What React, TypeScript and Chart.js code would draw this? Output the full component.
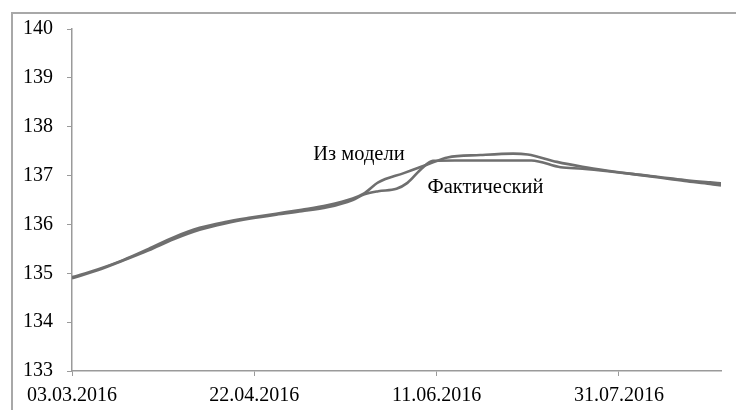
import React, { useEffect, useRef } from "react";
import { Chart, registerables } from "chart.js";

Chart.register(...registerables);

// Days counted from 03.03.2016
const modelDays = [0, 7, 14, 21, 28, 35, 42, 49, 56, 63, 70, 77, 80, 84, 91, 98, 103, 112, 121, 125, 133, 140, 147, 154, 161, 168, 175, 178];
const modelValues = [134.92, 135.08, 135.27, 135.5, 135.74, 135.93, 136.05, 136.14, 136.22, 136.3, 136.39, 136.53, 136.63, 136.86, 137.05, 137.24, 137.37, 137.42, 137.45, 137.43, 137.28, 137.18, 137.1, 137.03, 136.97, 136.91, 136.86, 136.84];

const actualDays = [0, 7, 14, 21, 28, 35, 42, 49, 56, 63, 70, 77, 80, 84, 89, 92, 96, 99, 105, 126, 134, 140, 147, 154, 161, 168, 175, 178];
const actualValues = [134.9, 135.06, 135.26, 135.47, 135.7, 135.89, 136.02, 136.12, 136.2, 136.27, 136.35, 136.5, 136.61, 136.68, 136.73, 136.85, 137.15, 137.3, 137.31, 137.31, 137.17, 137.14, 137.09, 137.03, 136.96, 136.89, 136.83, 136.8];

const xTickDays = [0, 50, 100, 150];
const xTickLabels = ["03.03.2016", "22.04.2016", "11.06.2016", "31.07.2016"];
const yTicks = [133, 134, 135, 136, 137, 138, 139, 140];

const seriesNames = ["Из модели", "Фактический"];
// label anchors: [day, value]
const labelAnchors = [
  [78.7, 137.31],
  [113.4, 136.65],
];

const FONT = "'Liberation Serif', 'Times New Roman', serif";
const TICK_FONT_SIZE = 20;
const LABEL_FONT_SIZE = 20.5;
const LINE_COLOR = "#6f6f6f";
const AXIS_COLOR = "#9a9a9a";

export default function App() {
  const ref = useRef<HTMLCanvasElement | null>(null);

  useEffect(() => {
    if (!ref.current) return;

    const framePlugin = {
      id: "frame",
      beforeDraw(chart: any) {
        const ctx = chart.ctx;
        ctx.save();
        ctx.fillStyle = "#ffffff";
        ctx.fillRect(0, 0, chart.width, chart.height);
        ctx.strokeStyle = "#a8a8a8";
        ctx.lineWidth = 2;
        ctx.beginPath();
        ctx.moveTo(12, chart.height);
        ctx.lineTo(12, 13);
        ctx.lineTo(chart.width, 13);
        ctx.stroke();
        ctx.restore();
      },
    };

    const labelPlugin = {
      id: "seriesLabels",
      afterDatasetsDraw(chart: any) {
        const ctx = chart.ctx;
        const xs = chart.scales.x;
        const ys = chart.scales.y;
        ctx.save();
        ctx.font = `${LABEL_FONT_SIZE}px ${FONT}`;
        ctx.fillStyle = "#000000";
        ctx.textAlign = "center";
        ctx.textBaseline = "alphabetic";
        seriesNames.forEach((name, i) => {
          const [d, v] = labelAnchors[i];
          ctx.fillText(name, xs.getPixelForValue(d), ys.getPixelForValue(v));
        });
        ctx.restore();
      },
    };

    const chart = new Chart(ref.current, {
      type: "line",
      data: {
        datasets: [
          {
            label: seriesNames[0],
            data: modelDays.map((d, i) => ({ x: d, y: modelValues[i] })),
            borderColor: LINE_COLOR,
            borderWidth: 2.6,
            pointRadius: 0,
            cubicInterpolationMode: "monotone",
            fill: false,
          },
          {
            label: seriesNames[1],
            data: actualDays.map((d, i) => ({ x: d, y: actualValues[i] })),
            borderColor: LINE_COLOR,
            borderWidth: 2.6,
            pointRadius: 0,
            cubicInterpolationMode: "monotone",
            fill: false,
          },
        ],
      },
      options: {
        responsive: false,
        animation: false,
        layout: { padding: { left: 0, top: 29, right: 15, bottom: 0 } },
        plugins: {
          legend: { display: false },
          tooltip: { enabled: false },
        },
        scales: {
          x: {
            type: "linear",
            min: 0,
            max: 178,
            afterBuildTicks(scale: any) {
              scale.ticks = xTickDays.map((v) => ({ value: v }));
            },
            afterFit(scale: any) {
              scale.height = 39;
            },
            ticks: {
              autoSkip: false,
              maxRotation: 0,
              padding: 8,
              color: "#000000",
              font: { family: FONT, size: TICK_FONT_SIZE },
              callback: (v: any) => {
                const i = xTickDays.indexOf(Number(v));
                return i >= 0 ? xTickLabels[i] : "";
              },
            },
            grid: {
              drawOnChartArea: false,
              drawTicks: true,
              tickLength: 5,
              color: AXIS_COLOR,
            },
            border: { display: true, color: AXIS_COLOR, width: 1.5 },
          },
          y: {
            type: "linear",
            min: 133,
            max: 140,
            afterBuildTicks(scale: any) {
              scale.ticks = yTicks.map((v) => ({ value: v }));
            },
            afterFit(scale: any) {
              scale.width = 72;
            },
            ticks: {
              padding: 14,
              color: "#000000",
              font: { family: FONT, size: TICK_FONT_SIZE },
            },
            grid: {
              drawOnChartArea: false,
              drawTicks: true,
              tickLength: 5,
              color: AXIS_COLOR,
            },
            border: { display: true, color: AXIS_COLOR, width: 1.5 },
          },
        },
      },
      plugins: [framePlugin, labelPlugin],
    } as any);

    return () => chart.destroy();
  }, []);

  return (
    <div style={{ position: "fixed", left: 0, top: 0, width: 736, height: 410, background: "#fff" }}>
      <canvas ref={ref} width={736} height={410} style={{ display: "block" }} />
    </div>
  );
}
